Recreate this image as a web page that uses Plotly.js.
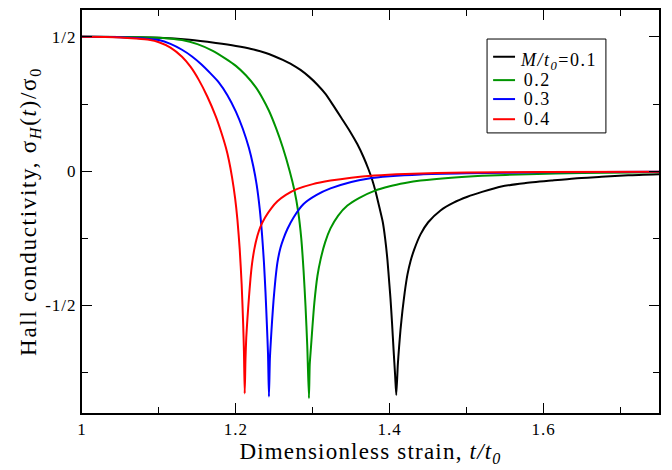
<!DOCTYPE html>
<html>
<head>
<meta charset="utf-8">
<script src="https://cdn.plot.ly/plotly-3.0.1.min.js"></script>
<style>
html,body{margin:0;padding:0;background:#fff;}
#chart{width:672px;height:470px;}
#chart .xtick text, #chart .ytick text{letter-spacing:1px;}
#chart .ytitle{letter-spacing:1.7px;}
#chart .xtitle{letter-spacing:1.2px;}
#chart .annotation-text{letter-spacing:1.5px;}
</style>
</head>
<body>
<div id="chart"></div>
<script>
// Series: M/t0 = 0.1 (black)
const x01 = [1.0, 1.05, 1.10, 1.14, 1.174, 1.2, 1.22, 1.239, 1.25, 1.261, 1.273, 1.284, 1.295, 1.306, 1.317, 1.327, 1.337, 1.348, 1.358, 1.366, 1.372, 1.377, 1.382, 1.387, 1.391, 1.394, 1.397, 1.3995, 1.401, 1.403, 1.405, 1.407, 1.4085, 1.4105, 1.412, 1.414, 1.4165, 1.4195, 1.423, 1.427, 1.432, 1.44, 1.45, 1.466, 1.483, 1.501, 1.52, 1.545, 1.575, 1.61, 1.64, 1.675, 1.71, 1.75];
const y01 = [0.5, 0.4995, 0.497, 0.489, 0.477, 0.466, 0.455, 0.440, 0.428, 0.414, 0.397, 0.377, 0.352, 0.322, 0.286, 0.243, 0.199, 0.150, 0.100, 0.052, 0.010, -0.030, -0.080, -0.140, -0.190, -0.250, -0.330, -0.420, -0.475, -0.565, -0.665, -0.760, -0.833, -0.720, -0.660, -0.590, -0.520, -0.450, -0.385, -0.335, -0.290, -0.235, -0.190, -0.146, -0.117, -0.095, -0.077, -0.057, -0.045, -0.035, -0.027, -0.021, -0.015, -0.011];
// Series: M/t0 = 0.2 (green)
const x02 = [1.0, 1.05, 1.10, 1.13, 1.15, 1.17, 1.187, 1.20, 1.213, 1.226, 1.235, 1.243, 1.252, 1.261, 1.270, 1.276, 1.281, 1.285, 1.288, 1.2905, 1.2928, 1.295, 1.296, 1.2975, 1.2995, 1.302, 1.306, 1.31, 1.316, 1.323, 1.333, 1.345, 1.36, 1.38, 1.40, 1.42, 1.44, 1.48, 1.52, 1.58, 1.65, 1.75];
const y02 = [0.5, 0.4995, 0.497, 0.488, 0.473, 0.448, 0.418, 0.392, 0.357, 0.312, 0.270, 0.225, 0.162, 0.088, 0.0, -0.070, -0.150, -0.250, -0.370, -0.500, -0.650, -0.845, -0.720, -0.660, -0.580, -0.490, -0.390, -0.330, -0.265, -0.213, -0.165, -0.128, -0.100, -0.073, -0.056, -0.044, -0.035, -0.024, -0.017, -0.011, -0.007, -0.004];
// Series: M/t0 = 0.3 (blue)
const x03 = [1.0, 1.04, 1.07, 1.10, 1.115, 1.13, 1.143, 1.155, 1.167, 1.178, 1.189, 1.2, 1.209, 1.217, 1.2225, 1.227, 1.231, 1.234, 1.2365, 1.2385, 1.2403, 1.2418, 1.243, 1.2442, 1.2455, 1.247, 1.249, 1.2515, 1.254, 1.258, 1.262, 1.267, 1.275, 1.288, 1.305, 1.323, 1.35, 1.371, 1.40, 1.44, 1.5, 1.6, 1.75];
const y03 = [0.5, 0.4995, 0.496, 0.488, 0.474, 0.452, 0.427, 0.398, 0.364, 0.330, 0.283, 0.222, 0.158, 0.086, 0.020, -0.050, -0.140, -0.235, -0.340, -0.450, -0.570, -0.680, -0.839, -0.700, -0.630, -0.560, -0.480, -0.400, -0.340, -0.285, -0.250, -0.215, -0.172, -0.122, -0.088, -0.064, -0.040, -0.028, -0.019, -0.012, -0.008, -0.004, -0.002];
// Series: M/t0 = 0.4 (red)
const x04 = [1.0, 1.03, 1.05, 1.07, 1.087, 1.10, 1.115, 1.13, 1.141, 1.152, 1.163, 1.174, 1.181, 1.187, 1.191, 1.195, 1.199, 1.202, 1.205, 1.2075, 1.2095, 1.2105, 1.2115, 1.2125, 1.2135, 1.215, 1.217, 1.219, 1.221, 1.224, 1.228, 1.232, 1.238, 1.246, 1.254, 1.265, 1.28, 1.30, 1.323, 1.35, 1.38, 1.42, 1.5, 1.6, 1.75];
const y04 = [0.5, 0.4995, 0.498, 0.494, 0.489, 0.480, 0.460, 0.426, 0.389, 0.339, 0.277, 0.203, 0.145, 0.088, 0.040, -0.022, -0.100, -0.180, -0.290, -0.420, -0.570, -0.670, -0.827, -0.700, -0.620, -0.550, -0.470, -0.400, -0.345, -0.290, -0.240, -0.206, -0.172, -0.138, -0.112, -0.088, -0.066, -0.048, -0.035, -0.024, -0.016, -0.010, -0.005, -0.003, -0.002];

const seriesNames = ['<i>M/t</i><sub><i>0</i></sub>=0.1', '0.2', '0.3', '0.4'];
const seriesColors = ['#000000', '#009400', '#0000ff', '#ff0000'];
const xs = [x01, x02, x03, x04];
const ys = [y01, y02, y03, y04];

const xTickVals = [1, 1.2, 1.4, 1.6];
const xTickText = ['1', '1.2', '1.4', '1.6'];
const yTickVals = [0.5, 0, -0.5];
const yTickText = ['1/2', '0', '-1/2'];

const traces = xs.map((x, i) => ({
  x: x, y: ys[i], type: 'scatter', mode: 'lines', name: seriesNames[i],
  line: {color: seriesColors[i], width: 2, shape: 'spline', smoothing: 0.6},
  showlegend: false
}));

const font = '"Liberation Serif", "Times New Roman", Times, serif';

// hand-built legend (paper coordinates)
const legX0 = 0.702, legX1 = 0.908, legY0 = 0.695, legY1 = 0.928;
const legRows = [0.884, 0.826, 0.779, 0.729];
const shapes = [{type: 'rect', xref: 'paper', yref: 'paper', x0: legX0, x1: legX1, y0: legY0, y1: legY1,
  line: {color: '#000', width: 1}, fillcolor: '#fff', layer: 'above'}];
const annotations = [];
seriesNames.forEach((n, i) => {
  shapes.push({type: 'line', xref: 'paper', yref: 'paper', x0: 0.7125, x1: 0.7505, y0: legRows[i], y1: legRows[i],
    line: {color: seriesColors[i], width: 2}, layer: 'above'});
  annotations.push({xref: 'paper', yref: 'paper', x: 0.766, y: legRows[i] + (i === 0 ? -0.012 : 0), xanchor: 'left', yanchor: 'middle',
    text: n, showarrow: false, font: {family: font, size: 18, color: '#000'}});
});

const layout = {
  width: 672, height: 470,
  margin: {l: 82, r: 13, t: 10, b: 57},
  paper_bgcolor: '#fff', plot_bgcolor: '#fff',
  font: {family: font, color: '#000', size: 17},
  showlegend: false,
  shapes: shapes,
  annotations: annotations,
  xaxis: {
    range: [1, 1.75], showline: true, linecolor: '#000', linewidth: 2,
    mirror: 'ticks', ticks: 'inside', ticklen: 10, tickwidth: 1, tickcolor: '#000',
    tickmode: 'array', tickvals: xTickVals, ticktext: xTickText,
    minor: {ticks: 'inside', ticklen: 6, tickwidth: 1, tickcolor: '#000', dtick: 0.1, tick0: 1},
    showgrid: false, zeroline: false,
    tickfont: {family: font, size: 17},
    title: {text: 'Dimensionless strain, <i>t/t</i><sub><i>0</i></sub>', font: {family: font, size: 23}, standoff: 2}
  },
  yaxis: {
    range: [-0.9, 0.6], showline: true, linecolor: '#000', linewidth: 2,
    mirror: 'ticks', ticks: 'inside', ticklen: 10, tickwidth: 1, tickcolor: '#000',
    tickmode: 'array', tickvals: yTickVals, ticktext: yTickText,
    minor: {ticks: 'inside', ticklen: 6, tickwidth: 1, tickcolor: '#000', dtick: 0.25, tick0: 0},
    showgrid: false, zeroline: false,
    tickfont: {family: font, size: 17},
    title: {text: 'Hall conductivity, σ<sub><i>H</i></sub>(<i>t</i>)/σ<sub>0</sub>', font: {family: font, size: 23}, standoff: 6}
  }
};

Plotly.newPlot('chart', traces, layout, {displayModeBar: false, staticPlot: true});
</script>
</body>
</html>
